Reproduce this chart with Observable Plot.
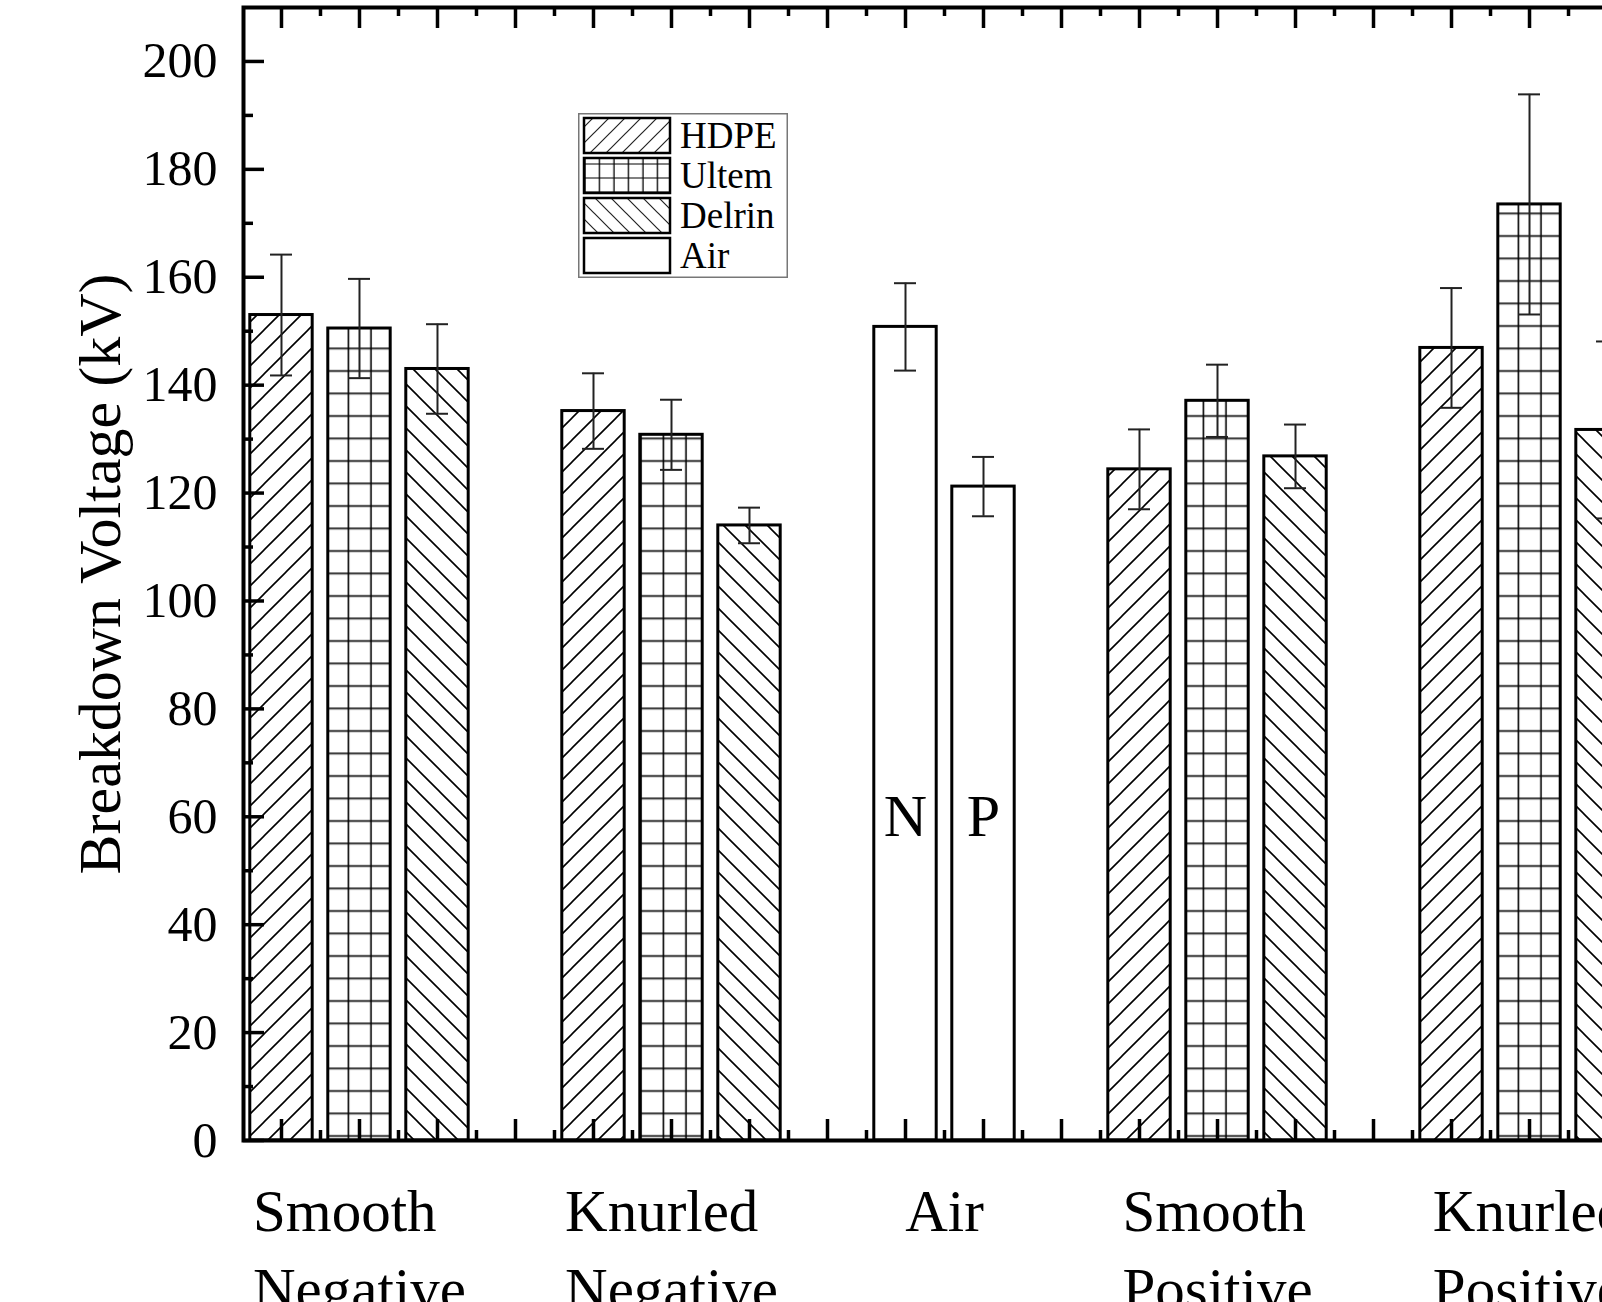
<!DOCTYPE html>
<html>
<head>
<meta charset="utf-8">
<script src="https://cdn.jsdelivr.net/npm/d3@7"></script>
<script src="https://cdn.jsdelivr.net/npm/@observablehq/plot@0.6"></script>
<style>
  html, body { margin: 0; padding: 0; background: #fff; }
  #wrap { position: relative; width: 1602px; height: 1302px; overflow: hidden; background: #fff; }
  #legend { position: absolute; left: 578px; top: 113px; }
</style>
</head>
<body>
<svg width="0" height="0" style="position:absolute">
  <defs>
    <pattern id="p-hdpe" patternUnits="userSpaceOnUse" width="22" height="22">
      <path d="M0,22 L22,0 M-3,3 L3,-3 M19,25 L25,19" stroke="#000" stroke-width="1.6" fill="none"/>
    </pattern>
    <pattern id="p-delrin" patternUnits="userSpaceOnUse" width="22" height="22">
      <path d="M0,0 L22,22 M-3,19 L3,25 M19,-3 L25,3" stroke="#000" stroke-width="1.6" fill="none"/>
    </pattern>
    <pattern id="p-ultem" patternUnits="userSpaceOnUse" width="22.5" height="22.5">
      <path d="M0,11 H22.5" stroke="#333" stroke-width="2" fill="none"/>
      <path d="M11,0 V22.5" stroke="#000" stroke-width="1.6" fill="none"/>
    </pattern>
    <pattern id="l-hdpe" patternUnits="userSpaceOnUse" width="16" height="16">
      <path d="M0,16 L16,0 M-3,3 L3,-3 M13,19 L19,13" stroke="#222" stroke-width="1.2" fill="none"/>
    </pattern>
    <pattern id="l-delrin" patternUnits="userSpaceOnUse" width="16" height="16">
      <path d="M0,0 L16,16 M-3,13 L3,19 M13,-3 L19,3" stroke="#222" stroke-width="1.2" fill="none"/>
    </pattern>
    <pattern id="l-ultem" patternUnits="userSpaceOnUse" width="14.5" height="14">
      <path d="M0,7 H14.5" stroke="#555" stroke-width="1.5" fill="none"/>
      <path d="M7,0 V14" stroke="#000" stroke-width="1.3" fill="none"/>
    </pattern>
  </defs>
</svg>
<div id="wrap"><div id="chart"></div><svg id="legend"></svg></div>
<script>
// ---------------- data ----------------
const groups = ["Smooth\nNegative", "Knurled\nNegative", "Air", "Smooth\nPositive", "Knurled\nPositive"];
const materials = ["HDPE", "Ultem", "Delrin"];
const hdpeKV   = [153.0, 135.2, null, 124.4, 146.9];
const hdpeErr  = [11.2,  7.0,   null, 7.4,   11.1];
const ultemKV  = [150.5, 130.8, null, 137.1, 173.5];
const ultemErr = [9.2,   6.5,   null, 6.7,   20.4];
const delrinKV = [143.0, 114.0, null, 126.8, 131.7];
const delrinErr= [8.3,   3.3,   null, 5.9,   16.4];
const airLabels = ["N", "P"];
const airKV    = [150.8, 121.2];
const airErr   = [8.1, 5.5];
const legendItems = ["HDPE", "Ultem", "Delrin", "Air"];
const yTitle = "Breakdown Voltage (kV)";
const yMajor = [0, 20, 40, 60, 80, 100, 120, 140, 160, 180, 200];
const yMinor = [10, 30, 50, 70, 90, 110, 130, 150, 170, 190];

// ---------------- layout / style ----------------
const FONT = "'Liberation Serif', 'Times New Roman', Times, serif";
const W = 1660, H = 1302;
const mL = 243, mR = 15, mT = 7, mB = 162;
const plotW = W - mL - mR, plotH = H - mT - mB;
const xDomain = [-0.487, 17.487];
const slotPx = plotW / (xDomain[1] - xDomain[0]);
const barHalf = 0.4;
const capHalf = 11 / slotPx;
const airLabelY = 60;
const patternOf = {HDPE: "url(#p-hdpe)", Ultem: "url(#p-ultem)", Delrin: "url(#p-delrin)", Air: "#fff"};
const legendPattern = {HDPE: "url(#l-hdpe)", Ultem: "url(#l-ultem)", Delrin: "url(#l-delrin)", Air: "#fff"};

const valByMat = {HDPE: hdpeKV, Ultem: ultemKV, Delrin: delrinKV};
const errByMat = {HDPE: hdpeErr, Ultem: ultemErr, Delrin: delrinErr};

// build rows with slot positions
const rows = [];
const centers = [];
let slot = 0;
groups.forEach((g, gi) => {
  const start = slot;
  if (g === "Air") {
    airKV.forEach((v, i) => rows.push({group: g, material: "Air", label: airLabels[i], slot: slot++, value: v, err: airErr[i]}));
  } else {
    materials.forEach(m => rows.push({group: g, material: m, slot: slot++, value: valByMat[m][gi], err: errByMat[m][gi]}));
  }
  centers.push({group: g, center: (start + slot - 1) / 2});
  slot++;
});
const nSlots = slot - 1;
const xMajor = d3.range(0, nSlots);
const xMinor = d3.range(0.5, nSlots - 1, 1);

// measure label widths to left-align each label block around its group centre
const ctx = document.createElement("canvas").getContext("2d");
const labelSize = 59;
ctx.font = `${labelSize}px 'Liberation Serif'`;
centers.forEach(c => {
  const w = d3.max(c.group.split("\n"), s => ctx.measureText(s).width);
  c.xLeft = c.center - (w / 2) / slotPx;
});

const barMarks = ["HDPE", "Ultem", "Delrin", "Air"].map(m =>
  Plot.rectY(rows.filter(d => d.material === m), {
    x1: d => d.slot - barHalf, x2: d => d.slot + barHalf, y1: 0, y2: "value",
    fill: patternOf[m], stroke: "#000", strokeWidth: 3
  })
);

const chart = Plot.plot({
  width: W, height: H,
  marginLeft: mL, marginRight: mR, marginTop: mT, marginBottom: mB,
  style: {fontFamily: FONT, background: "#fff", maxWidth: "none", overflow: "visible", color: "#000"},
  x: {domain: xDomain, axis: null},
  y: {domain: [0, 210]},
  marks: [
    ...barMarks,
    // error bars
    Plot.ruleX(rows, {x: "slot", y1: d => d.value - d.err, y2: d => d.value + d.err, stroke: "#222", strokeWidth: 2}),
    Plot.ruleY(rows, {y: d => d.value + d.err, x1: d => d.slot - capHalf, x2: d => d.slot + capHalf, stroke: "#222", strokeWidth: 2}),
    Plot.ruleY(rows, {y: d => d.value - d.err, x1: d => d.slot - capHalf, x2: d => d.slot + capHalf, stroke: "#222", strokeWidth: 2}),
    // N / P labels in the Air bars
    Plot.text(rows.filter(d => d.material === "Air"), {x: "slot", y: airLabelY, text: "label", fontSize: 60, fill: "#000"}),
    // inward ticks: left & right
    Plot.ruleY(yMajor, {y: d => d, insetRight: plotW - 21, stroke: "#000", strokeWidth: 3.5}),
    Plot.ruleY(yMinor, {y: d => d, insetRight: plotW - 10, stroke: "#000", strokeWidth: 3.5}),
    Plot.ruleY(yMajor, {y: d => d, insetLeft: plotW - 21, stroke: "#000", strokeWidth: 3.5}),
    Plot.ruleY(yMinor, {y: d => d, insetLeft: plotW - 10, stroke: "#000", strokeWidth: 3.5}),
    // inward ticks: top & bottom
    Plot.ruleX(xMajor, {x: d => d, insetBottom: plotH - 21, stroke: "#000", strokeWidth: 3.5}),
    Plot.ruleX(xMinor, {x: d => d, insetBottom: plotH - 9, stroke: "#000", strokeWidth: 3.5}),
    Plot.ruleX(xMajor, {x: d => d, insetTop: plotH - 21, stroke: "#000", strokeWidth: 3.5}),
    Plot.ruleX(xMinor, {x: d => d, insetTop: plotH - 10, stroke: "#000", strokeWidth: 3.5}),
    Plot.frame({stroke: "#000", strokeWidth: 4}),
    Plot.axisY(yMajor, {tickSize: 0, tickPadding: 26, fontSize: 50, label: null, fill: "#000"}),
    Plot.text([yTitle], {text: d => d, frameAnchor: "left", dx: -143, rotate: -90, fontSize: 60, textAnchor: "middle", lineAnchor: "middle", fill: "#000"}),
    // group labels
    Plot.text(centers, {x: "xLeft", frameAnchor: "bottom", dy: 35, text: "group", textAnchor: "start", lineAnchor: "top", fontSize: labelSize, lineHeight: 1.32, fill: "#000"})
  ]
});
document.getElementById("chart").appendChild(chart);

// ---------------- legend ----------------
const lg = d3.select("#legend").attr("width", 211).attr("height", 166);
lg.append("rect").attr("x", 0.75).attr("y", 0.75).attr("width", 208.5).attr("height", 163.5)
  .attr("fill", "#fff").attr("stroke", "#777").attr("stroke-width", 1.5);
const row = lg.selectAll("g.item").data(legendItems).join("g").attr("class", "item")
  .attr("transform", (d, i) => `translate(0,${4 + i * 40})`);
row.append("rect").attr("x", 6).attr("y", 1).attr("width", 86).attr("height", 35)
  .attr("fill", d => legendPattern[d]).attr("stroke", "#000").attr("stroke-width", 2.5);
row.append("text").attr("x", 102).attr("y", 18.5).attr("dy", "0.35em")
  .attr("font-family", FONT).attr("font-size", 37).attr("fill", "#000").text(d => d);
</script>
</body>
</html>
